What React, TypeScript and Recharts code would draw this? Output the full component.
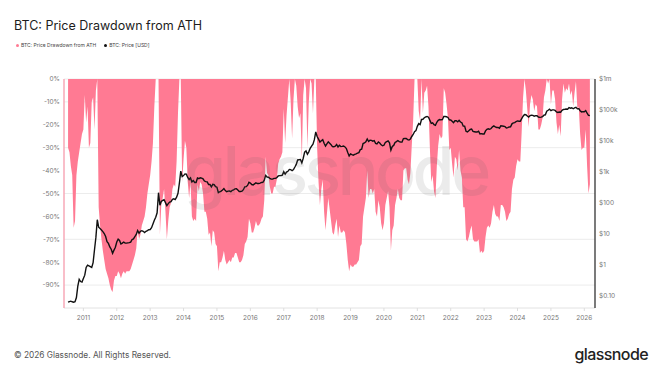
import React from "react";
import { ComposedChart, Area, Line, XAxis, YAxis, CartesianGrid } from "recharts";

const PINK = "#ff7a93";

// x-axis: one sample every half month, first sample mid-July 2010
const firstSample = 2010.5;
const samplesPerYear = 24;
const yearTicks = [2011, 2012, 2013, 2014, 2015, 2016, 2017, 2018, 2019, 2020, 2021, 2022, 2023, 2024, 2025, 2026];

const drawdownTicks = [0, -10, -20, -30, -40, -50, -60, -70, -80, -90];
const priceTicks = [0.1, 1, 10, 100, 1000, 10000, 100000, 1000000];
const priceTickLabels = ["$0.10", "$1", "$10", "$100", "$1k", "$10k", "$100k", "$1m"];

// drawdown from ATH in %
const drawdown = [
  -30, -32, -38, -42, -65, -62, -42, -36, -32, -28, -24, // 2010 (Jul-Dec)
  -22, -7, -19, -12, -30, -28, -10, -8, -22, -5, 0, -56, -64, -70, -75, -79, -83, -85, -87, -90, -92, -93, -88, -86, // 2011
  -86, -84, -85, -87, -85, -84, -85, -84, -84, -84, -83, -81, -79, -77, -74, -66, -70, -68, -64, -62, -60, -56, -50, -46, // 2012
  -42, -36, -28, -12, 0, 0, 0, -68, -55, -52, -48, -58, -70, -62, -56, -54, -48, -46, -47, -36, -15, 0, 0, -45, // 2013
  -35, -27, -30, -45, -52, -45, -60, -62, -61, -62, -46, -49, -45, -46, -50, -58, -58, -61, -68, -67, -73, -66, -67, -72, // 2014
  -73, -84, -80, -80, -78, -75, -79, -81, -80, -79, -80, -78, -78, -76, -76, -78, -80, -80, -79, -77, -72, -71, -69, -61, // 2015
  -63, -67, -67, -65, -62, -64, -64, -63, -61, -60, -53, -34, -41, -42, -47, -50, -50, -47, -47, -44, -37, -35, -34, -32, // 2016
  -13, -28, -16, -8, 0, -10, -26, -9, 0, -3, -12, -17, -15, -35, -7, 0, -4, -30, -10, 0, -2, -15, 0, 0, // 2017
  -30, -45, -55, -48, -44, -58, -66, -59, -52, -57, -62, -67, -68, -64, -61, -69, -64, -67, -67, -66, -67, -72, -79, -84, // 2018
  -81, -82, -82, -81, -81, -80, -79, -73, -72, -60, -56, -52, -40, -52, -48, -48, -50, -48, -58, -60, -53, -56, -63, -66, // 2019
  -63, -55, -52, -49, -56, -75, -66, -64, -55, -52, -48, -52, -53, -53, -40, -39, -39, -44, -46, -41, -29, -18, 0, 0, // 2020
  0, -14, -18, 0, -15, -6, -5, -3, -12, -30, -45, -42, -49, -52, -38, -29, -24, -26, -25, -4, -6, -11, -17, -31, // 2021
  -30, -37, -43, -34, -35, -40, -31, -40, -43, -56, -56, -70, -71, -69, -66, -64, -70, -71, -71, -71, -70, -76, -75, -76, // 2022
  -75, -69, -65, -64, -65, -63, -58, -55, -59, -60, -60, -62, -55, -55, -56, -58, -62, -61, -59, -58, -48, -44, -43, -38, // 2023
  -35, -36, -36, -23, -8, 0, -5, -13, -21, -11, -7, -9, -14, -11, -12, -22, -22, -20, -17, -8, -5, 0, -2, 0, // 2024
  -11, -5, -5, -9, -19, -24, -20, -25, -9, -2, -6, -4, -5, -2, -7, -5, -12, -6, -1, -13, -12, -24, -31, -30, // 2025
  -30, -22, -38, -50, -46, // 2026 (Jan-Mar)
];

// BTC price in USD
const price = [
  0.06, 0.063, 0.065, 0.062, 0.06, 0.062, 0.085, 0.2, 0.33, 0.28, 0.27, // 2010
  0.35, 0.45, 0.8, 0.95, 0.9, 0.85, 0.8, 1.15, 3.0, 7.5, 28, 16, 14.5, 13, 11.5, 10, 8, 5.5, 4.8, 3.7, 3.1, 2.3, 2.9, 3.6, // 2011
  5.3, 6.6, 6.0, 4.6, 4.9, 5.3, 4.9, 4.9, 5.0, 5.1, 5.3, 6.4, 6.7, 8.0, 9.3, 12.5, 10.2, 11.8, 12.4, 11.8, 10.8, 11.8, 12.5, 13.3, // 2012
  13.5, 15.5, 20.5, 27, 33.5, 47, 210, 82, 110, 118, 125, 100, 80, 93, 104, 108, 128, 133, 125, 150, 200, 430, 1050, 700, // 2013
  750, 850, 830, 650, 560, 630, 470, 520, 450, 450, 630, 600, 640, 620, 590, 500, 480, 470, 385, 385, 325, 390, 380, 330, // 2014
  315, 210, 225, 235, 255, 285, 245, 225, 235, 237, 225, 250, 258, 280, 282, 255, 228, 230, 237, 262, 325, 330, 360, 455, // 2015
  430, 385, 375, 405, 435, 415, 418, 430, 450, 455, 535, 760, 675, 665, 610, 575, 575, 608, 610, 640, 730, 745, 755, 780, // 2016
  1000, 830, 970, 1030, 1190, 1170, 1080, 1180, 1420, 1730, 2400, 2450, 2500, 1920, 2730, 4300, 4700, 3700, 4400, 5700, 6700, 7800, 10900, 19300, // 2017
  13800, 11300, 9100, 10100, 10900, 8300, 6800, 8000, 9200, 8300, 7500, 6500, 6400, 6700, 7600, 6300, 7200, 6500, 6600, 6800, 6350, 5600, 4200, 3250, // 2018
  3800, 3600, 3450, 3650, 3800, 4000, 4150, 5200, 5350, 8200, 8550, 9300, 11500, 9500, 10400, 10300, 9750, 10200, 8300, 8000, 9200, 8500, 7400, 6900, // 2019
  7200, 8800, 9400, 9900, 8600, 5000, 6600, 7100, 8800, 9400, 10200, 9400, 9200, 9100, 11800, 11900, 11900, 11000, 10600, 11500, 13800, 16000, 19700, 21300, // 2020
  29400, 36000, 33500, 49000, 49600, 56000, 59000, 61500, 57800, 46500, 36700, 38300, 33500, 31800, 39900, 46000, 48800, 47800, 48200, 61500, 61000, 60000, 57000, 47600, // 2021
  47300, 43000, 38700, 44500, 44400, 41100, 46300, 40500, 38500, 29800, 29800, 20400, 19300, 21200, 23300, 24100, 20100, 19700, 19300, 19300, 20500, 16700, 17100, 16600, // 2022
  16600, 21000, 23700, 24600, 23600, 25000, 28400, 30300, 28000, 27000, 27000, 25600, 30600, 30200, 29700, 28700, 25900, 26600, 28000, 28500, 35400, 37900, 38700, 42200, // 2023
  44200, 43100, 43100, 52100, 62400, 71000, 69700, 63800, 58300, 65200, 67700, 66600, 62700, 65100, 64600, 58900, 57300, 58200, 60800, 67600, 69500, 91000, 97200, 106000, // 2024
  94400, 100500, 100600, 96100, 86000, 82600, 85200, 84000, 96500, 103500, 105000, 106800, 105700, 119000, 113300, 117400, 109200, 116700, 121000, 108200, 110000, 94500, 86300, 87800, // 2025
  87500, 95500, 78000, 67000, 65000, // 2026
];

const rows = drawdown.map((d, i) => ({
  t: firstSample + (i + 1) / samplesPerYear,
  drawdown: d,
  price: price[i],
}));

const tickStyle = { fontSize: 6.5, fill: "#777", fontFamily: "Inter, sans-serif" };

export default function App() {
  return (
    <div
      style={{
        position: "absolute",
        left: 0,
        top: 0,
        width: 661,
        height: 368,
        background: "#fff",
        overflow: "hidden",
        fontFamily: "Inter, sans-serif",
      }}
    >
      <div style={{ position: "absolute", left: 14, top: 19.5, fontSize: 12.5, lineHeight: 1, color: "#1c1c1c" }}>
        BTC: Price Drawdown from ATH
      </div>

      {/* legend */}
      <div style={{ position: "absolute", left: 16, top: 42.5, fontSize: 5, lineHeight: 1, color: "#444", display: "flex", alignItems: "center" }}>
        <span style={{ width: 3, height: 3, borderRadius: 2, background: PINK, marginRight: 2 }} />
        <span style={{ marginRight: 8 }}>BTC: Price Drawdown from ATH</span>
        <span style={{ width: 3, height: 3, borderRadius: 2, background: "#111", marginRight: 2 }} />
        <span>BTC: Price [USD]</span>
      </div>

      <ComposedChart
        width={661}
        height={368}
        data={rows}
        margin={{ top: 79, right: 16, bottom: 40, left: 24 }}
        style={{ position: "absolute", left: 0, top: 0 }}
      >
        <CartesianGrid vertical={false} yAxisId="dd" stroke="#ececec" />
        <XAxis
          dataKey="t"
          type="number"
          domain={[2010.42, 2026.32]}
          ticks={yearTicks}
          allowDataOverflow
          height={20}
          tick={tickStyle}
          tickLine={{ stroke: "#ddd" }}
          tickSize={3}
          tickMargin={4}
          axisLine={{ stroke: "#ececec" }}
        />
        <YAxis
          yAxisId="dd"
          orientation="left"
          domain={[-100, 0]}
          ticks={drawdownTicks}
          width={40}
          tick={tickStyle}
          tickFormatter={(v: number) => `${v}%`}
          tickLine={false}
          tickSize={0}
          tickMargin={4}
          axisLine={{ stroke: "#f7a8b7", strokeWidth: 1.5 }}
        />
        <YAxis
          yAxisId="price"
          orientation="right"
          scale="log"
          domain={[0.039, 1000000]}
          allowDataOverflow
          ticks={priceTicks}
          width={50}
          tick={tickStyle}
          tickFormatter={(v: number) => priceTickLabels[priceTicks.indexOf(v)]}
          tickLine={false}
          tickSize={0}
          tickMargin={4}
          axisLine={{ stroke: "#222", strokeWidth: 1.2 }}
        />
        <Area
          yAxisId="dd"
          dataKey="drawdown"
          type="linear"
          baseValue={0}
          fill={PINK}
          fillOpacity={1}
          stroke="none"
          isAnimationActive={false}
        />
        <Line
          yAxisId="price"
          dataKey="price"
          type="linear"
          stroke="#111"
          strokeWidth={1.4}
          dot={false}
          isAnimationActive={false}
        />
      </ComposedChart>

      {/* watermark */}
      <div
        style={{
          position: "absolute",
          left: 184,
          top: 136,
          fontSize: 68,
          lineHeight: 1,
          letterSpacing: -3.5,
          fontWeight: 500,
          color: "rgba(90,90,90,0.12)",
          pointerEvents: "none",
        }}
      >
        glassnode
      </div>

      <div style={{ position: "absolute", left: 14, top: 351, fontSize: 8.3, lineHeight: 1, color: "#555" }}>
        © 2026 Glassnode. All Rights Reserved.
      </div>
      <div
        style={{
          position: "absolute",
          right: 13,
          top: 346,
          fontSize: 16,
          lineHeight: 1,
          letterSpacing: -0.6,
          fontWeight: 500,
          color: "#222",
        }}
      >
        glassnode
      </div>
    </div>
  );
}
